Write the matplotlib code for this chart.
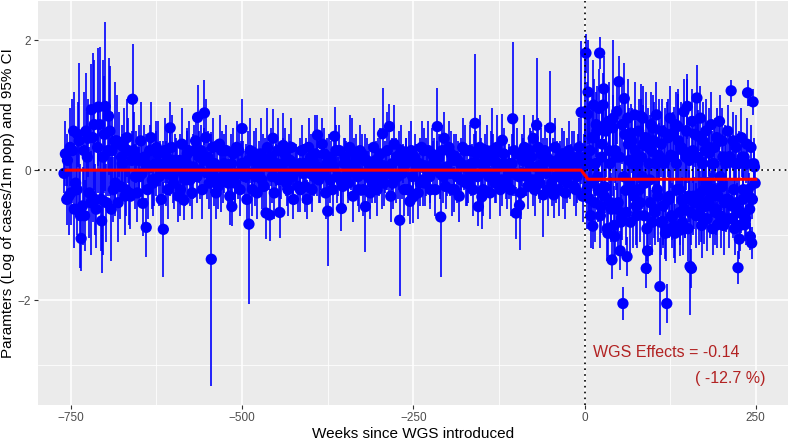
import numpy as np
import matplotlib
matplotlib.use("Agg")
import matplotlib.pyplot as plt
from matplotlib.ticker import MultipleLocator

plt.rcParams['font.family'] = ['Liberation Sans', 'DejaVu Sans']

# weekly estimates before WGS (main points, every 5th week)
pre_weeks = list(range(-760, 0, 5))
pre_est = [
    -0.05, 0.15, -0.35, -0.6, 0.55, -1.05, -0.7, 0.49, 0.93, -0.45,
    0.97, -0.78, 0.98, 0.83, 0.3, -0.2, 0.4, 0.1, -0.3, -0.35,
    1.09, 0.2, -0.1, -0.51, -0.88, 0.3, -0.2, 0.35, 0.1, -0.91,
    0.2, 0.65, -0.2, 0.1, -0.3, -0.46, 0.25, -0.1, 0.3, 0.81,
    0.3, 0.88, 0.2, -1.37, 0.1, -0.25, 0.3, 0.05, -0.2, -0.56,
    -0.2, 0.3, 0.64, 0.1, -0.83, -0.3, 0.25, -0.1, 0.2, -0.66,
    -0.69, 0.49, 0.1, -0.65, 0.38, -0.2, 0.15, -0.45, 0.05, -0.3,
    0.1, -0.45, 0.2, -0.1, 0.54, 0.0, 0.25, -0.63, 0.15, 0.52,
    -0.1, -0.59, 0.2, -0.2, 0.3, 0.05, -0.3, 0.25, -0.56, 0.1,
    -0.2, 0.15, -0.1, 0.56, 0.0, 0.67, -0.2, 0.2, -0.77, 0.1,
    0.2, -0.48, -0.41, 0.1, -0.2, 0.3, 0.0, -0.3, 0.2, 0.67,
    -0.72, 0.49, 0.0, 0.25, -0.3, 0.15, -0.15, 0.3, -0.2, 0.1,
    0.72, -0.56, -0.41, 0.2, -0.1, 0.3, -0.2, 0.1, 0.46, -0.15,
    0.1, 0.79, -0.66, -0.54, 0.2, -0.1, 0.3, 0.49, 0.69, -0.2,
    -0.38, 0.2, 0.65, -0.38, 0.15, -0.1, 0.25, -0.2, 0.1, -0.25, 0.2, 0.89,
]
pre_hw = [
    0.3, 0.4, 0.5, 0.6, 0.5, 0.5, 0.55, 0.6, 0.7, 0.55,
    0.9, 0.8, 1.3, 0.9, 0.6, 0.5, 0.5, 0.45, 0.4, 0.5,
    0.85, 0.4, 0.45, 0.5, 0.45, 0.4, 0.5, 0.4, 0.35, 0.73,
    0.4, 0.4, 0.4, 0.35, 0.4, 0.3, 0.4, 0.35, 0.4, 0.5,
    0.4, 0.5, 0.4, 1.95, 0.35, 0.35, 0.3, 0.3, 0.35, 0.3,
    0.35, 0.35, 0.45, 0.3, 1.22, 0.4, 0.4, 0.3, 0.35, 0.4,
    0.4, 0.45, 0.35, 0.4, 0.5, 0.35, 0.3, 0.3, 0.3, 0.35,
    0.3, 0.3, 0.35, 0.3, 0.3, 0.3, 0.4, 0.85, 0.3, 0.45,
    0.3, 0.35, 0.3, 0.3, 0.5, 0.3, 0.35, 0.3, 0.7, 0.3,
    0.3, 0.3, 0.3, 0.7, 0.3, 0.35, 0.4, 0.3, 1.17, 0.3,
    0.3, 0.35, 0.4, 0.3, 0.35, 0.35, 0.3, 0.3, 0.3, 0.6,
    0.92, 0.4, 0.3, 0.35, 0.35, 0.3, 0.3, 0.4, 0.3, 0.3,
    1.06, 0.3, 0.5, 0.35, 0.3, 0.65, 0.3, 0.3, 0.4, 0.3,
    0.3, 1.18, 0.4, 0.68, 0.3, 0.3, 0.35, 0.35, 1.03, 0.3,
    0.64, 0.3, 0.88, 0.35, 0.3, 0.3, 0.35, 0.3, 0.3, 0.3, 0.35, 1.1,
]

# the in-between weeks that make up the dense band around zero
pre_weeks_b = list(range(-758, 0, 5))
pre_est_b = [
    0.25, -0.4, 0.3, -0.2, 0.45, -0.55, 0.6, -0.35, 0.5, -0.6,
    0.7, 0.2, -0.5, 0.6, -0.3, 0.45, -0.25, 0.35, 0.5, -0.4,
    0.3, -0.35, 0.45, 0.2, -0.3, 0.5, -0.15, 0.25, -0.45, 0.3,
    -0.3, 0.35, 0.15, -0.4, 0.4, -0.15, 0.3, -0.35, 0.45, 0.2,
    -0.3, 0.5, -0.2, 0.35, -0.35, 0.4, -0.1, 0.3, -0.4, 0.25,
    0.35, -0.3, 0.1, -0.45, 0.3, 0.15, -0.35, 0.25, -0.25, 0.35,
    0.2, -0.35, 0.3, -0.1, 0.25, -0.3, 0.35, 0.05, -0.25, 0.3,
    -0.25, 0.35, -0.3, 0.25, -0.15, 0.4, -0.35, 0.2, -0.3, 0.3,
    0.3, -0.25, 0.1, 0.35, -0.4, 0.2, 0.3, -0.3, 0.15, -0.35,
    0.35, -0.3, 0.25, -0.2, 0.3, -0.4, 0.4, -0.1, 0.3, -0.3,
    -0.3, 0.3, 0.2, -0.35, 0.35, -0.2, 0.3, 0.25, -0.3, 0.2,
    0.3, -0.25, 0.35, -0.3, 0.2, -0.4, 0.35, -0.2, 0.3, -0.3,
    0.25, 0.35, -0.3, 0.3, -0.35, 0.2, 0.35, -0.3, 0.25, -0.25,
    -0.3, 0.3, 0.25, -0.35, 0.35, -0.25, 0.2, -0.3, 0.35, 0.25,
    0.3, -0.3, -0.2, 0.35, -0.3, 0.25, -0.35, 0.3, 0.2, -0.3, 0.35, -0.4,
]
pre_hw_b = [
    0.5, 0.6, 0.8, 0.5, 1.2, 0.6, 0.9, 0.7, 1.3, 0.6,
    1.2, 1.5, 0.6, 1.0, 0.5, 0.7, 0.5, 0.6, 0.6, 0.5,
    0.6, 0.45, 0.6, 0.5, 0.45, 0.55, 0.4, 0.5, 0.45, 0.5,
    0.45, 0.5, 0.4, 0.4, 0.55, 0.4, 0.45, 0.4, 0.4, 0.4,
    0.45, 0.6, 0.4, 0.45, 0.4, 0.45, 0.4, 0.4, 0.45, 0.4,
    0.4, 0.4, 0.35, 0.4, 0.5, 0.45, 0.4, 0.55, 0.4, 0.6,
    0.45, 0.4, 0.5, 0.35, 0.4, 0.4, 0.45, 0.35, 0.4, 0.4,
    0.4, 0.45, 0.35, 0.6, 0.35, 0.4, 0.4, 0.35, 0.4, 0.4,
    0.4, 0.35, 0.35, 0.5, 0.4, 0.35, 0.4, 0.4, 0.35, 0.4,
    0.45, 0.4, 0.4, 0.35, 0.6, 0.4, 0.6, 0.35, 0.4, 0.4,
    0.4, 0.45, 0.35, 0.4, 0.4, 0.35, 0.45, 0.4, 0.4, 0.35,
    0.4, 0.35, 0.4, 0.4, 0.35, 0.4, 0.45, 0.35, 0.4, 0.4,
    0.35, 0.5, 0.4, 0.4, 0.4, 0.35, 0.5, 0.4, 0.4, 0.35,
    0.4, 0.45, 0.4, 0.4, 0.5, 0.35, 0.4, 0.4, 0.45, 0.4,
    0.4, 0.4, 0.35, 0.45, 0.4, 0.4, 0.4, 0.45, 0.4, 0.4, 0.45, 0.4,
]

pre_weeks_c = list(range(-756, 0, 5))
pre_est_c = [
    -0.45, 0.35, 0.6, -0.3, -0.7, 0.3, 0.2, -0.5, 0.7, 0.35,
    -0.45, 0.55, 0.3, -0.6, 0.45, -0.5, 0.2, -0.4, 0.3, 0.15,
    -0.1, 0.15, -0.05, 0.1, 0.05, -0.15, 0.1, -0.1, 0.05, -0.05,
    0.1, -0.1, 0.05, 0.15, -0.05, 0.1, -0.15, 0.05, -0.1, 0.0,
    0.15, -0.05, 0.1, -0.1, 0.05, -0.15, 0.1, -0.05, 0.1, -0.1,
    -0.05, 0.1, -0.1, 0.15, -0.05, -0.1, 0.05, -0.15, 0.1, 0.05,
    -0.1, 0.05, -0.15, 0.1, -0.05, 0.15, -0.1, 0.05, 0.1, -0.05,
    0.1, -0.05, 0.15, 0.05, -0.1, -0.05, 0.1, -0.15, 0.05, -0.1,
    -0.15, 0.1, -0.05, 0.05, 0.1, -0.1, -0.05, 0.15, -0.1, 0.05,
    -0.1, 0.1, -0.15, 0.05, -0.05, 0.1, -0.1, 0.15, -0.05, 0.1,
    0.15, -0.1, 0.05, 0.1, -0.15, 0.05, -0.1, 0.1, 0.05, -0.05,
    -0.1, 0.05, -0.05, 0.15, -0.1, 0.1, 0.05, -0.15, -0.05, 0.1,
    -0.1, 0.1, 0.05, -0.05, 0.15, -0.1, 0.05, -0.15, 0.1, -0.05,
    0.1, -0.05, -0.1, 0.15, -0.05, 0.1, -0.15, 0.05, -0.1, 0.1,
    -0.05, 0.15, 0.1, -0.1, 0.05, -0.15, 0.1, -0.05, 0.15, -0.1, 0.05, 0.1,
]
pre_hw_c = [
    0.4, 0.6, 0.6, 0.7, 0.8, 0.9, 0.7, 0.8, 1.0, 0.7,
    0.8, 0.9, 0.7, 0.8, 0.9, 0.6, 0.5, 0.6, 0.5, 0.45,
    0.5, 0.55, 0.5, 0.45, 0.4, 0.45, 0.5, 0.45, 0.4, 0.5,
    0.5, 0.4, 0.45, 0.4, 0.45, 0.5, 0.4, 0.5, 0.4, 0.45,
    0.5, 0.4, 0.45, 0.45, 0.4, 0.5, 0.45, 0.4, 0.45, 0.5,
    0.4, 0.35, 0.4, 0.45, 0.35, 0.45, 0.4, 0.45, 0.4, 0.35,
    0.4, 0.35, 0.45, 0.4, 0.35, 0.4, 0.4, 0.35, 0.4, 0.45,
    0.4, 0.35, 0.4, 0.45, 0.4, 0.35, 0.4, 0.35, 0.4, 0.4,
    0.45, 0.4, 0.35, 0.35, 0.4, 0.45, 0.35, 0.4, 0.4, 0.35,
    0.4, 0.4, 0.45, 0.4, 0.35, 0.4, 0.4, 0.45, 0.4, 0.4,
    0.45, 0.4, 0.35, 0.4, 0.4, 0.45, 0.4, 0.35, 0.4, 0.4,
    0.4, 0.45, 0.35, 0.4, 0.4, 0.4, 0.35, 0.4, 0.35, 0.45,
    0.4, 0.4, 0.35, 0.35, 0.45, 0.4, 0.4, 0.4, 0.4, 0.4,
    0.45, 0.35, 0.4, 0.4, 0.35, 0.4, 0.4, 0.45, 0.35, 0.4,
    0.4, 0.45, 0.4, 0.4, 0.4, 0.45, 0.4, 0.4, 0.45, 0.4, 0.4, 0.45,
]

# weekly estimates after WGS (even weeks)
post_weeks = list(range(0, 250, 2))
post_est = [
    0.2, 1.80, 0.86, -0.43, 0.3, -0.2, -0.86, 0.5, 0.1, 0.6,
    -0.3, 1.80, -0.56, 0.4, 1.25, -0.26, 0.7, -0.97, 0.3, -0.5,
    -1.38, 0.8, -1.02, 0.2, -0.6, 1.36, -1.24, -0.73, -2.05, 1.10,
    -0.31, -1.33, 0.4, -0.2, 0.57, 0.1, -0.4, 0.3, -0.7, 0.2,
    -0.3, 0.83, -0.1, 0.4, -0.2, -1.51, -1.24, 0.1, -0.5, 0.3,
    0.65, -0.6, 0.1, -0.3, 0.23, -1.79, 0.4, -0.79, 0.1, -0.97,
    -2.05, 0.5, -0.4, 0.23, -0.72, 0.57, -0.97, 0.1, 0.67, -0.3,
    -0.92, -0.46, 0.3, -0.6, 0.2, 0.98, -0.4, -1.48, -1.51, 0.3,
    -0.5, 0.2, 1.11, 0.52, -0.36, -0.6, 0.1, -0.74, 0.3, -0.2,
    -0.5, 0.26, -0.41, 0.1, -0.3, 0.35, -0.6, -0.84, 0.47, -0.1,
    -0.26, 0.2, -0.5, 0.1, -0.46, -0.45, 0.21, 1.22, -0.74, -0.3,
    0.1, -0.5, -1.50, -1.06, -0.66, 0.2, -0.3, -0.84, 0.1, 1.19,
    -0.4, -1.02, -1.12, 1.05, 0.05,
]
post_hw = [
    0.5, 0.3, 0.5, 0.4, 0.6, 0.5, 0.35, 0.9, 0.5, 0.7,
    0.5, 0.25, 0.4, 0.6, 0.5, 0.4, 0.6, 0.35, 0.5, 0.45,
    0.3, 1.2, 0.35, 0.5, 0.4, 0.4, 0.3, 0.35, 0.25, 0.55,
    0.4, 0.3, 0.5, 0.4, 0.45, 0.5, 0.4, 0.45, 0.5, 0.4,
    0.4, 0.5, 0.5, 0.6, 0.45, 0.3, 0.35, 0.55, 0.4, 0.5,
    0.5, 0.45, 0.5, 0.4, 0.5, 0.75, 0.5, 0.4, 0.6, 0.4,
    0.3, 0.6, 0.4, 0.5, 0.35, 0.4, 0.45, 0.5, 0.5, 0.4,
    0.4, 0.35, 0.6, 0.45, 0.5, 0.5, 0.4, 0.75, 0.3, 0.5,
    0.4, 0.5, 0.5, 0.4, 0.35, 0.5, 0.45, 0.4, 0.5, 0.45,
    0.4, 0.35, 0.4, 0.5, 0.4, 0.45, 0.4, 0.35, 0.3, 0.4,
    0.35, 0.4, 0.4, 0.35, 0.3, 0.3, 0.35, 0.17, 0.3, 0.35,
    0.4, 0.35, 0.25, 0.3, 0.3, 0.3, 0.35, 0.25, 0.3, 0.2,
    0.35, 0.2, 0.25, 0.2, 0.25,
]

# odd weeks after WGS
post_weeks_b = list(range(1, 250, 2))
post_est_b = [
    0.9, -0.3, 1.2, 0.1, -0.7, 0.5, 1.0, -0.5, 0.7, -0.1,
    0.95, -0.7, 0.2, 1.0, -0.4, 0.6, -0.9, 0.75, 0.1, -0.6,
    0.65, -0.85, 0.3, 0.9, -0.5, 0.2, -0.8, 0.7, -0.1, 0.55,
    -0.65, 0.8, 0.15, -0.8, 0.45, -0.3, 0.85, -0.55, 0.1, 0.6,
    -0.5, 0.2, 0.8, -0.7, 0.5, -0.9, 0.35, -0.15, 0.7, -0.8,
    0.45, -0.65, 0.85, -0.4, 0.2, -0.8, 0.6, -0.55, 0.15, -0.9,
    0.55, -0.45, 0.8, -0.7, 0.2, -0.85, 0.7, -0.3, 0.45, -0.65,
    0.35, -0.8, 0.9, -0.45, 0.6, -0.9, 0.15, -0.65, 0.75, -0.4,
    0.55, -0.7, 0.2, -0.45, 0.8, -0.85, 0.45, -0.3, 0.6, -0.75,
    0.35, -0.55, 0.7, -0.9, 0.1, -0.65, 0.5, -0.4, 0.75, -0.7,
    0.45, -0.85, 0.2, -0.45, 0.6, -0.75, 0.15, -0.55, 0.45, -0.9,
    0.35, -0.6, 0.1, -0.85, 0.5, -0.45, 0.2, -0.75, 0.4, -0.3,
    -0.6, 0.35, -0.45, 0.1, -0.2,
]
post_hw_b = [
    1.0, 0.6, 0.8, 0.8, 0.5, 0.7, 0.7, 0.6, 0.5, 0.5,
    0.6, 0.5, 0.8, 0.5, 0.6, 0.7, 0.5, 0.6, 0.7, 0.5,
    0.5, 0.6, 0.5, 0.5, 0.7, 0.8, 0.5, 0.6, 0.5, 0.6,
    0.5, 0.6, 0.8, 0.5, 0.5, 0.9, 0.5, 0.6, 0.7, 0.5,
    0.6, 0.9, 0.5, 0.5, 0.7, 0.5, 0.6, 1.0, 0.5, 0.5,
    0.6, 0.5, 0.5, 0.7, 0.9, 0.5, 0.5, 0.6, 0.8, 0.5,
    0.5, 0.6, 0.5, 0.5, 0.7, 0.5, 0.5, 0.6, 0.8, 0.5,
    0.7, 0.5, 0.5, 0.6, 0.8, 0.5, 0.6, 0.5, 0.5, 0.6,
    0.5, 0.5, 0.6, 0.7, 0.5, 0.5, 0.6, 0.5, 0.5, 0.5,
    0.6, 0.5, 0.5, 0.4, 0.6, 0.5, 0.45, 0.5, 0.4, 0.5,
    0.5, 0.45, 0.5, 0.5, 0.4, 0.45, 0.5, 0.4, 0.45, 0.4,
    0.5, 0.4, 0.5, 0.4, 0.45, 0.4, 0.35, 0.4, 0.4, 0.35,
    0.4, 0.35, 0.3, 0.4, 0.3,
]

# fitted step model (red line)
fit_weeks = [-757, -5, 5, 250]
fit_vals = [0.0, 0.0, -0.14, -0.14]

fig = plt.figure(figsize=(7.9, 4.41), dpi=100)
ax = fig.add_axes([38 / 790, 36 / 441, 750 / 790, 404 / 441])
ax.set_facecolor('#EBEBEB')
for s in ax.spines.values():
    s.set_visible(False)

ax.set_xlim(-798, 297)
ax.set_ylim(-3.61, 2.6)
ax.xaxis.set_major_locator(MultipleLocator(250))
ax.xaxis.set_minor_locator(MultipleLocator(125))
ax.yaxis.set_major_locator(MultipleLocator(2))
ax.yaxis.set_minor_locator(MultipleLocator(1))
ax.grid(which='major', color='white', linewidth=1.1)
ax.grid(which='minor', color='white', linewidth=0.55)
ax.set_axisbelow(True)
ax.tick_params(which='major', length=3, width=0.8, color='#333333',
               labelcolor='#4D4D4D', labelsize=8.5, pad=2)
ax.tick_params(which='minor', length=0)

# background band first, then the main points on top
series = [
    (pre_weeks_b, pre_est_b, pre_hw_b),
    (pre_weeks_c, pre_est_c, pre_hw_c),
    (post_weeks_b, post_est_b, post_hw_b),
    (pre_weeks, pre_est, pre_hw),
    (post_weeks, post_est, post_hw),
]
for wk, e, h in series:
    wk = np.array(wk)
    e = np.array(e)
    h = np.array(h)
    ax.vlines(wk, e - h, e + h, color='blue', linewidth=1.2, zorder=2)
    ax.scatter(wk, e, s=66, color='blue', edgecolors='none', zorder=3)

ax.axhline(0, color='black', linestyle=(0, (1, 2.5)), linewidth=1.2, zorder=4)
ax.axvline(0, color='black', linestyle=(0, (1, 2.5)), linewidth=1.2, zorder=4)
ax.plot(fit_weeks, fit_vals, color='red', linewidth=2.2, zorder=5)

ax.text(12, -2.8, 'WGS Effects = -0.14', color='#B22222', fontsize=11.5,
        ha='left', va='center')
ax.text(264, -3.2, '( -12.7 %)', color='#B22222', fontsize=11.5,
        ha='right', va='center')

ax.set_xlabel('Weeks since WGS introduced', fontsize=11, labelpad=2)
ax.set_ylabel('Paramters (Log of cases/1m pop) and 95% CI', fontsize=11, labelpad=2)

fig.savefig('out.png', dpi=100)
